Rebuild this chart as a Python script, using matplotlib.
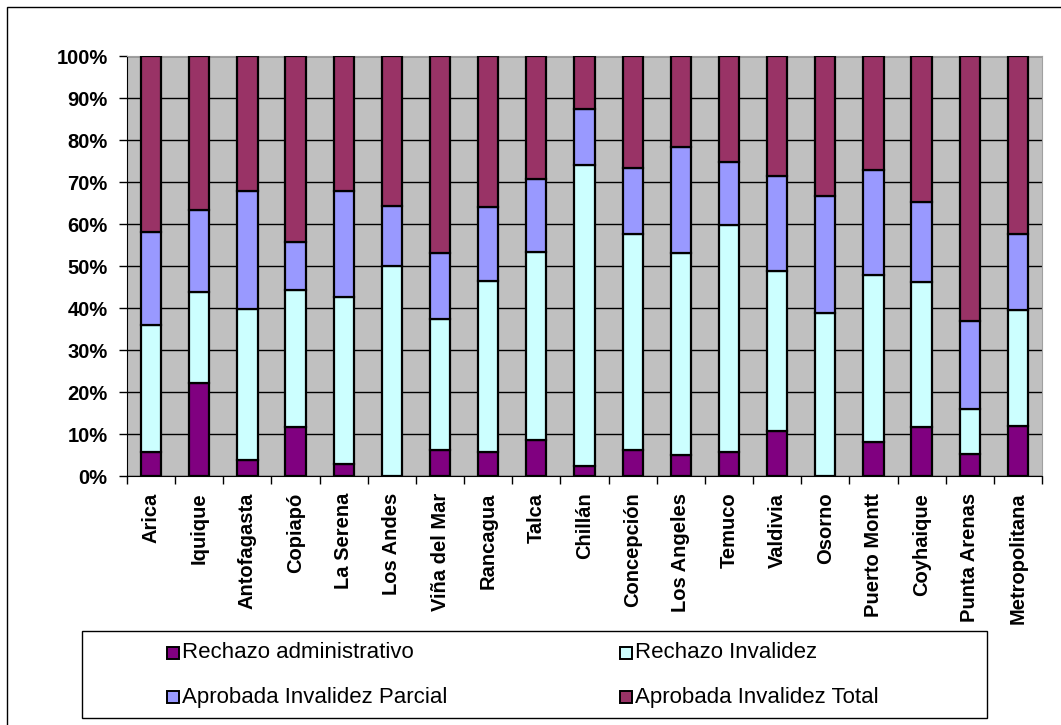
import matplotlib
matplotlib.use("Agg")
import matplotlib.pyplot as plt
import numpy as np
from matplotlib.patches import Rectangle
from matplotlib.ticker import FuncFormatter, MultipleLocator

plt.rcParams["font.family"] = ["Liberation Sans", "DejaVu Sans"]

regions = ["Arica", "Iquique", "Antofagasta", "Copiapó", "La Serena", "Los Andes",
           "Viña del Mar", "Rancagua", "Talca", "Chillán", "Concepción", "Los Angeles",
           "Temuco", "Valdivia", "Osorno", "Puerto Montt", "Coyhaique", "Punta Arenas",
           "Metropolitana"]

# shares in % per region
rechazo_admin = [5.6, 22.1, 3.7, 11.6, 2.9, 0.0, 6.2, 5.6, 8.6, 2.4,
                 6.3, 5.0, 5.6, 10.7, 0.0, 8.2, 11.6, 5.2, 11.9]
rechazo_inval = [30.4, 21.8, 36.0, 32.7, 39.8, 50.0, 31.3, 40.8, 44.7, 71.6,
                 51.3, 48.0, 54.2, 38.1, 38.7, 39.7, 34.5, 10.8, 27.6]
aprob_parcial = [22.2, 19.4, 28.2, 11.5, 25.2, 14.4, 15.5, 17.6, 17.3, 13.5,
                 15.7, 25.4, 14.9, 22.6, 28.0, 25.0, 19.1, 20.9, 18.1]
aprob_total = [41.8, 36.7, 32.1, 44.2, 32.1, 35.6, 47.0, 36.0, 29.4, 12.5,
               26.7, 21.6, 25.3, 28.6, 33.3, 27.1, 34.8, 63.1, 42.4]

series = [
    ("Rechazo administrativo", rechazo_admin, "#800080"),
    ("Rechazo Invalidez", rechazo_inval, "#CCFFFF"),
    ("Aprobada Invalidez Parcial", aprob_parcial, "#9999FF"),
    ("Aprobada Invalidez Total", aprob_total, "#993366"),
]

W, H = 1061, 725
fig = plt.figure(figsize=(W / 100, H / 100), dpi=100)

# outer chart border (only left/top visible in the original)
fig.patches.append(Rectangle((7 / W, -0.05), 1.1, 1 - 7 / H + 0.05, transform=fig.transFigure,
                             fill=False, edgecolor="black", linewidth=1.0))

ax = fig.add_axes([127 / W, (H - 476) / H, (1042 - 127) / W, 420 / H])
ax.set_facecolor("#C0C0C0")

x = np.arange(len(regions))
bottom = np.zeros(len(regions))
for label, vals, color in series:
    vals = np.array(vals)
    ax.bar(x, vals, 0.42, bottom=bottom, color=color, edgecolor="black",
           linewidth=1.6, label=label, zorder=3)
    bottom += vals

ax.set_xlim(-0.5, len(regions) - 0.5)
ax.set_ylim(0, 100)
ax.yaxis.set_major_locator(MultipleLocator(10))
ax.yaxis.set_major_formatter(FuncFormatter(lambda v, _: f"{v:.0f}%"))
ax.grid(axis="y", color="black", linewidth=1.0, zorder=1)
ax.set_axisbelow(True)

ax.set_xticks(x)
ax.set_xticklabels(regions, rotation=90, fontweight="bold", fontsize=14.5)
ax.tick_params(axis="x", length=0, pad=12)
ax.set_xticks(np.arange(len(regions) + 1) - 0.5, minor=True)
ax.tick_params(axis="x", which="minor", length=6, width=1, color="black", direction="out")
ax.tick_params(axis="y", length=6, width=1, direction="out", labelsize=14.5, pad=8)
for t in ax.get_yticklabels():
    t.set_fontweight("bold")

for side in ("top", "right"):
    ax.spines[side].set_color("#a0a0a0")
for side in ("left", "bottom"):
    ax.spines[side].set_color("black")

# legend box, drawn by hand to match the two-column layout
fig.patches.append(Rectangle((82 / W, (H - 718) / H), (987 - 82) / W, (718 - 631) / H,
                             transform=fig.transFigure, fill=True, facecolor="white",
                             edgecolor="black", linewidth=1.0))
legend_pos = [(167, 653), (620, 653), (167, 697), (620, 697)]
order = [0, 1, 2, 3]
for (px, py), i in zip(legend_pos, order):
    label, _, color = series[i]
    s = 12
    fig.patches.append(Rectangle((px / W, (H - py - s / 2) / H), s / W, s / H,
                                 transform=fig.transFigure, facecolor=color,
                                 edgecolor="black", linewidth=1.4))
    fig.text((px + s + 3) / W, (H - py) / H, label, fontsize=16, va="center", ha="left")

fig.savefig("out.png", dpi=100)
